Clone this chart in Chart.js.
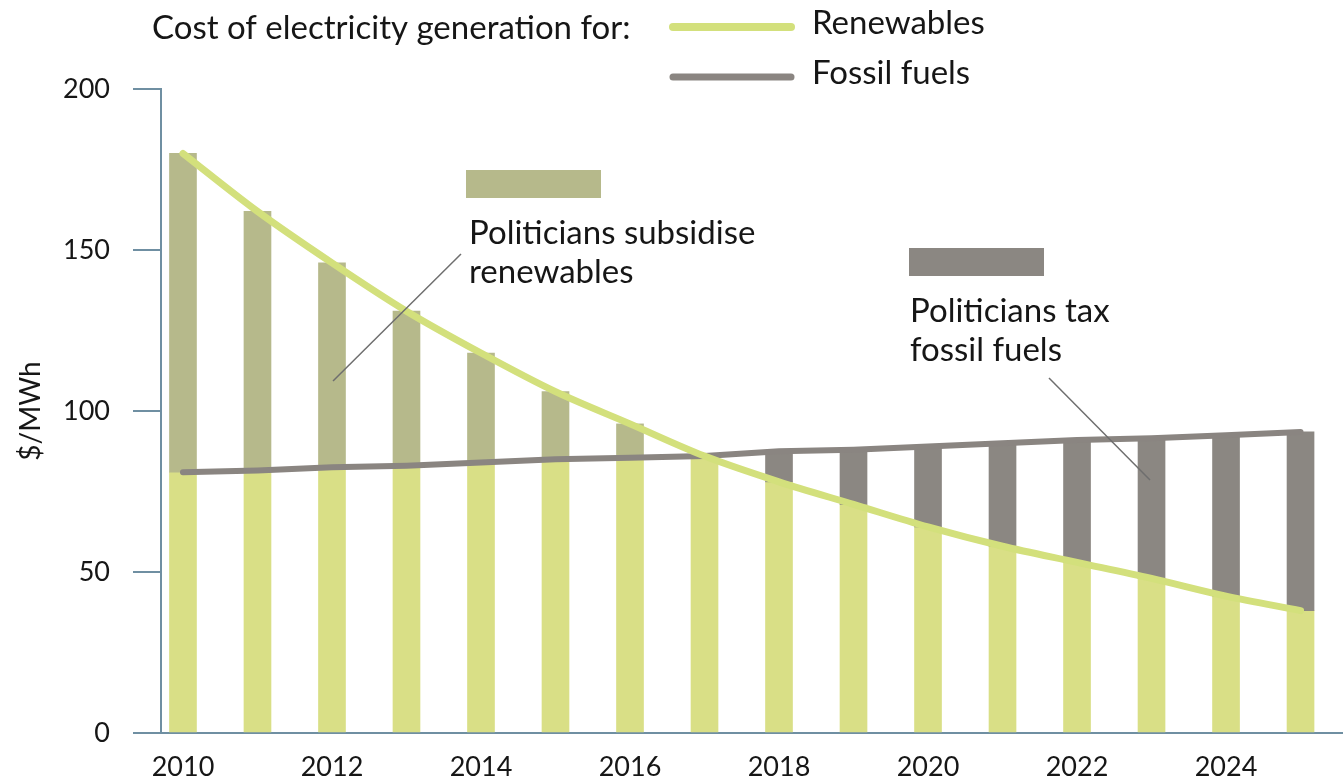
<!DOCTYPE html>
<html>
<head>
<meta charset="utf-8">
<title>Cost of electricity generation</title>
<script src="https://cdn.jsdelivr.net/npm/chart.js@4.4.1/dist/chart.umd.min.js"></script>
<style>
  html, body { margin: 0; padding: 0; background: #ffffff; }
  #wrap { position: relative; width: 1343px; height: 782px; }
</style>
</head>
<body>
<div id="wrap"><canvas id="chart" width="1343" height="782"></canvas></div>
<script>
// Years on the horizontal axis
const years = [2010, 2011, 2012, 2013, 2014, 2015, 2016, 2017, 2018, 2019, 2020, 2021, 2022, 2023, 2024, 2025];
// Cost of electricity generation, $/MWh
const renewables = [180, 162, 146, 131, 118, 106, 96, 86, 78, 71, 64, 58, 53, 48, 42.5, 38];
const fossilFuels = [81, 81.5, 82.5, 83, 84, 85, 85.5, 86, 87.5, 88, 89, 90, 91, 91.5, 92.5, 93.5];
// Axis tick labels
const yearTicks = [2010, 2012, 2014, 2016, 2018, 2020, 2022, 2024];
const valueTicks = [0, 50, 100, 150, 200];

const FONT = 'Lato, "Open Sans", sans-serif';
const AXIS = '#6f8fa2';
const GREEN_BAR = '#d9df86';
const GREEN_LINE = '#d3e07c';
const OLIVE = '#b6b98b';
const GREY = '#8b8782';
const GREY_LINE = '#8a8581';
const TEXT = '#161616';

// Lower of the two costs forms the base bar; the difference sits on top of it
const baseBars = years.map((x, i) => ({ x, y: [0, Math.min(renewables[i], fossilFuels[i])] }));
const gapBars = years.map((x, i) => ({ x, y: [Math.min(renewables[i], fossilFuels[i]), Math.max(renewables[i], fossilFuels[i])] }));
const gapColours = years.map((x, i) => renewables[i] > fossilFuels[i] ? OLIVE : GREY);

// Header, legend and call-out labels drawn on the canvas
const decorations = {
  id: 'decorations',
  afterDraw(chart) {
    const ctx = chart.ctx;
    ctx.save();
    ctx.fillStyle = TEXT;
    ctx.textBaseline = 'middle';
    ctx.textAlign = 'left';
    ctx.font = '33px ' + FONT;
    ctx.fillText('Cost of electricity generation for:', 152, 28);

    // legend keys
    ctx.lineCap = 'round';
    ctx.lineWidth = 8;
    ctx.strokeStyle = GREEN_LINE;
    ctx.beginPath(); ctx.moveTo(673, 27); ctx.lineTo(791, 27); ctx.stroke();
    ctx.strokeStyle = GREY_LINE;
    ctx.lineWidth = 7;
    ctx.beginPath(); ctx.moveTo(673, 77); ctx.lineTo(791, 77); ctx.stroke();
    ctx.fillText('Renewables', 812, 23);
    ctx.fillText('Fossil fuels', 812, 73);

    // call-out swatches
    ctx.fillStyle = OLIVE;
    ctx.fillRect(466, 170, 135, 28);
    ctx.fillStyle = GREY;
    ctx.fillRect(909, 248, 135, 28);

    ctx.fillStyle = TEXT;
    ctx.fillText('Politicians subsidise', 469, 233);
    ctx.fillText('renewables', 469, 272);
    ctx.fillText('Politicians tax', 910, 311);
    ctx.fillText('fossil fuels', 910, 350);

    // leader lines
    ctx.lineCap = 'butt';
    ctx.lineWidth = 1.5;
    ctx.strokeStyle = '#6e6e6e';
    ctx.beginPath(); ctx.moveTo(461, 254); ctx.lineTo(333, 381); ctx.stroke();
    ctx.beginPath(); ctx.moveTo(1049, 378); ctx.lineTo(1150, 480); ctx.stroke();
    ctx.restore();
  }
};

new Chart(document.getElementById('chart'), {
  type: 'bar',
  data: {
    datasets: [
      {
        type: 'line', label: 'Renewables',
        data: years.map((x, i) => ({ x, y: renewables[i] })),
        borderColor: GREEN_LINE, borderWidth: 7, borderCapStyle: 'round',
        pointRadius: 0, cubicInterpolationMode: 'monotone', order: 0
      },
      {
        type: 'line', label: 'Fossil fuels',
        data: years.map((x, i) => ({ x, y: fossilFuels[i] })),
        borderColor: GREY_LINE, borderWidth: 6, borderCapStyle: 'round',
        pointRadius: 0, tension: 0, order: 1
      },
      {
        label: 'Gap', data: gapBars, backgroundColor: gapColours,
        barThickness: 27, grouped: false, order: 2
      },
      {
        label: 'Base', data: baseBars, backgroundColor: GREEN_BAR,
        barThickness: 27, grouped: false, order: 3
      }
    ]
  },
  options: {
    responsive: false,
    animation: false,
    layout: { padding: { top: 89, right: 0, left: 0, bottom: 0 } },
    plugins: { legend: { display: false }, tooltip: { enabled: false }, title: { display: false } },
    scales: {
      x: {
        type: 'linear', min: 2009.705, max: 2025.57, offset: false,
        grid: { display: false, drawTicks: false },
        border: { display: true, color: AXIS, width: 2 },
        ticks: { color: TEXT, font: { family: FONT, size: 27 }, padding: 18, maxRotation: 0, autoSkip: false,
                 callback: v => String(v) },
        afterBuildTicks: s => { s.ticks = yearTicks.map(v => ({ value: v })); },
        afterFit: s => { s.height = 49; }
      },
      y: {
        min: 0, max: 200,
        grid: { drawOnChartArea: false, drawTicks: true, tickLength: 28, color: AXIS, lineWidth: 2 },
        border: { display: true, color: AXIS, width: 2 },
        ticks: { color: TEXT, font: { family: FONT, size: 27 }, padding: 23 },
        afterBuildTicks: s => { s.ticks = valueTicks.map(v => ({ value: v })); },
        afterFit: s => { s.width = 161; },
        title: { display: true, text: '$/MWh', color: TEXT, font: { family: FONT, size: 28 }, padding: { top: 14 } }
      }
    }
  },
  plugins: [decorations]
});
</script>
</body>
</html>
